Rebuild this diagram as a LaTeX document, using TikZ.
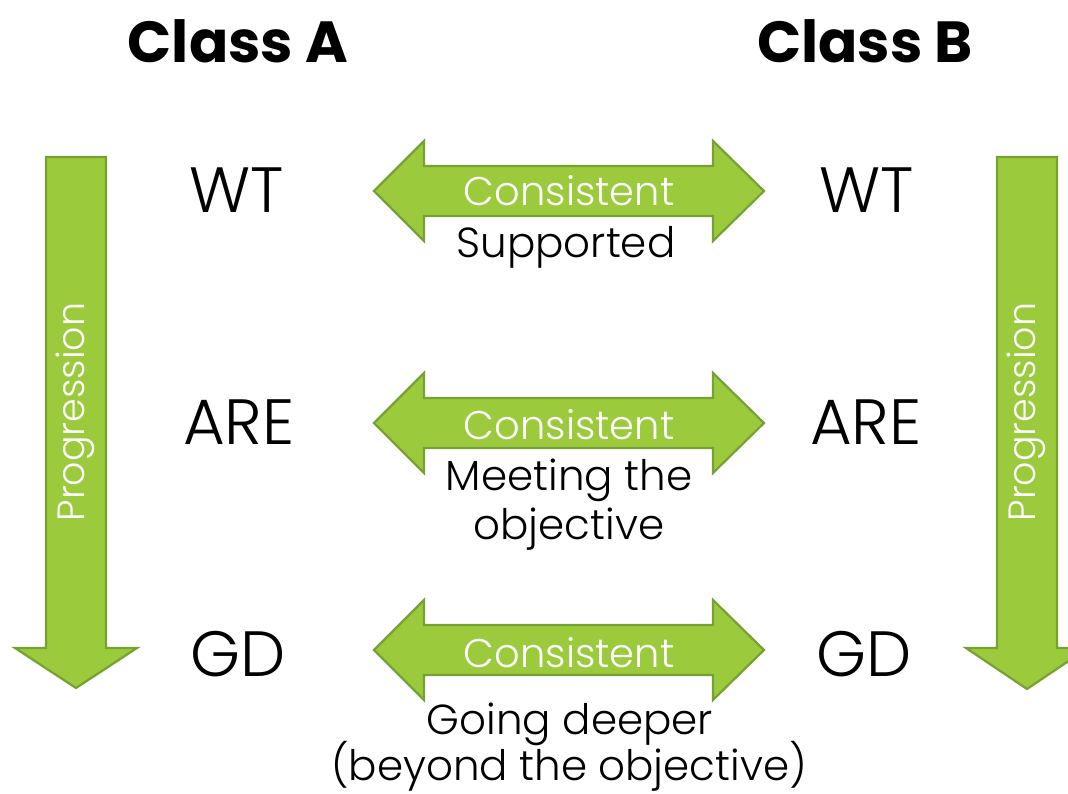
\documentclass[tikz,border=0pt]{standalone}
\usepackage{fontspec}
\setmainfont{Poppins}
\newfontfamily\lightfont{Poppins Light}
\definecolor{agreen}{HTML}{9BCB3C}
\definecolor{aborder}{HTML}{76A133}
\begin{document}
\begin{tikzpicture}[x=1pt,y=-1pt,
  blockarrow/.style={fill=agreen,draw=aborder,line width=2.2pt,line join=miter},
  lbl/.style={anchor=base,inner sep=0pt,text=black},
  title/.style={lbl,font=\fontsize{58}{60}\selectfont\bfseries},
  level/.style={lbl,font=\lightfont\fontsize{64}{66}\selectfont},
  cons/.style={lbl,text=white,font=\lightfont\fontsize{40}{42}\selectfont},
  desc/.style={lbl,font=\lightfont\fontsize{42}{44}\selectfont},
  prog/.style={anchor=base,inner sep=0pt,rotate=90,text=white,font=\lightfont\fontsize{38}{40}\selectfont}]
\useasboundingbox (0,0) rectangle (1068,794);
\clip (0,0) rectangle (1068,794);
% vertical progression arrows
\draw[blockarrow] (46,157) -- (106,157) -- (106,648) -- (137,648) -- (76,688) -- (15,648) -- (46,648) -- cycle;
\draw[blockarrow] (997,157) -- (1057,157) -- (1057,648) -- (1088,648) -- (1027,689) -- (966,648) -- (997,648) -- cycle;
\node[prog] (pa) at (84,412) {Progression};
\node[prog] (pb) at (1035,412) {Progression};
% horizontal double arrows
\foreach \c/\n in {191/1,423/2,650/3}{
  \draw[blockarrow] (374,\c) -- (424,\c-50) -- (424,\c-25) -- (713,\c-25) -- (713,\c-50)
    -- (764,\c) -- (713,\c+50) -- (713,\c+25) -- (424,\c+25) -- (424,\c+50) -- cycle;
}
\node[cons] (c1) at (569,206) {Consistent};
\node[cons] (c2) at (569,439) {Consistent};
\node[cons] (c3) at (569,667) {Consistent};
% titles
\node[title] (ta) at (238,63) {Class A};
\node[title] (tb) at (865,63) {Class B};
% levels
\node[level] (wta) at (237,213) {WT};
\node[level] (wtb) at (867,213) {WT};
\node[level] (area) at (239,444) {ARE};
\node[level] (areb) at (866,444) {ARE};
\node[level] (gda) at (238,676) {GD};
\node[level] (gdb) at (864,676) {GD};
% descriptions
\node[desc] (d1) at (566,258) {Supported};
\node[desc] (d2a) at (569,490) {Meeting the};
\node[desc] (d2b) at (569,539) {objective};
\node[desc] (d3a) at (570,734) {Going deeper};
\node[desc] (d3b) at (569,780) {(beyond the objective)};
\end{tikzpicture}
\end{document}
